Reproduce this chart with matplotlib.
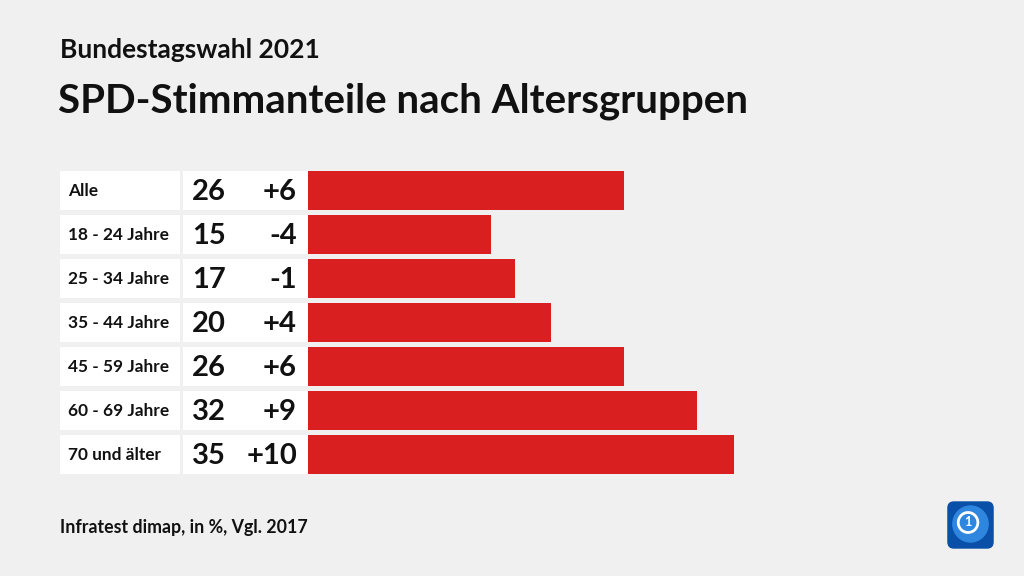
import matplotlib.pyplot as plt
from matplotlib.patches import FancyBboxPatch, Circle

plt.rcParams['font.family'] = ['Lato', 'DejaVu Sans']

groups = ["Alle", "18 - 24 Jahre", "25 - 34 Jahre", "35 - 44 Jahre",
          "45 - 59 Jahre", "60 - 69 Jahre", "70 und älter"]
shares = [26, 15, 17, 20, 26, 32, 35]
changes = ["+6", "-4", "-1", "+4", "+6", "+9", "+10"]

bg = "#f0f0f0"
red = "#d91f1f"

W, H = 1024, 576
fig = plt.figure(figsize=(W / 100, H / 100), dpi=100, facecolor=bg)

# title / footer
fig.text(60 / W, 1 - 58 / H, "Bundestagswahl 2021", fontsize=19, fontweight="bold",
         ha="left", va="baseline", color="#111111")
fig.text(58 / W, 1 - 112 / H, "SPD-Stimmanteile nach Altersgruppen", fontsize=29,
         fontweight="bold", ha="left", va="baseline", color="#111111")
fig.text(60 / W, 1 - 533 / H, "Infratest dimap, in %, Vgl. 2017", fontsize=12.8,
         fontweight="bold", ha="left", va="baseline", color="#111111")

# chart axes: 60px .. 800px wide, rows 168.5 .. 476.5
px_per_unit = (734 - 308) / 35
ax_left, ax_right = 60, 800
xmin = -(308 - ax_left) / px_per_unit
xmax = xmin + (ax_right - ax_left) / px_per_unit
top, bottom = 168.5, 476.5
ax = fig.add_axes([ax_left / W, 1 - bottom / H, (ax_right - ax_left) / W, (bottom - top) / H])
ax.set_facecolor(bg)
ax.set_xlim(xmin, xmax)
n = len(groups)
ax.set_ylim(n - 0.5, -0.5)
ax.axis("off")

h = 39 / 44
ypos = list(range(n))
lab_l = xmin
lab_r = (180 - 308) / px_per_unit
val_l = (183 - 308) / px_per_unit
val_r = (307.5 - 308) / px_per_unit
ax.barh(ypos, [lab_r - lab_l] * n, left=lab_l, height=h, color="white")
ax.barh(ypos, [val_r - val_l] * n, left=val_l, height=h, color="white")
ax.barh(ypos, shares, left=0, height=h, color=red)

x_lab = (68 - 308) / px_per_unit
x_val = (192 - 308) / px_per_unit
x_chg = (297 - 308) / px_per_unit
for i in range(n):
    ax.text(x_lab, i + 0.02, groups[i], fontsize=12.4, fontweight="bold",
            ha="left", va="center", color="#111111")
    ax.text(x_val, i + 0.04, str(shares[i]), fontsize=21, fontweight="bold",
            ha="left", va="center", color="#111111")
    ax.text(x_chg, i + 0.04, changes[i], fontsize=21, fontweight="bold",
            ha="right", va="center", color="#111111")

# logo
lax = fig.add_axes([946 / W, 1 - 550 / H, 49 / W, 50 / H])
lax.set_xlim(0, 1)
lax.set_ylim(0, 1)
lax.axis("off")
lax.add_patch(FancyBboxPatch((0.04, 0.04), 0.92, 0.92, boxstyle="round,pad=0,rounding_size=0.12",
                             color="#0a4fa8"))
lax.add_patch(Circle((0.5, 0.52), 0.36, color="#2e86de"))
lax.add_patch(Circle((0.45, 0.55), 0.2, fill=False, ec="white", lw=2))
lax.text(0.45, 0.55, "1", fontsize=9, fontweight="bold", color="white", ha="center", va="center")

fig.savefig("out.png", dpi=100, facecolor=bg)
